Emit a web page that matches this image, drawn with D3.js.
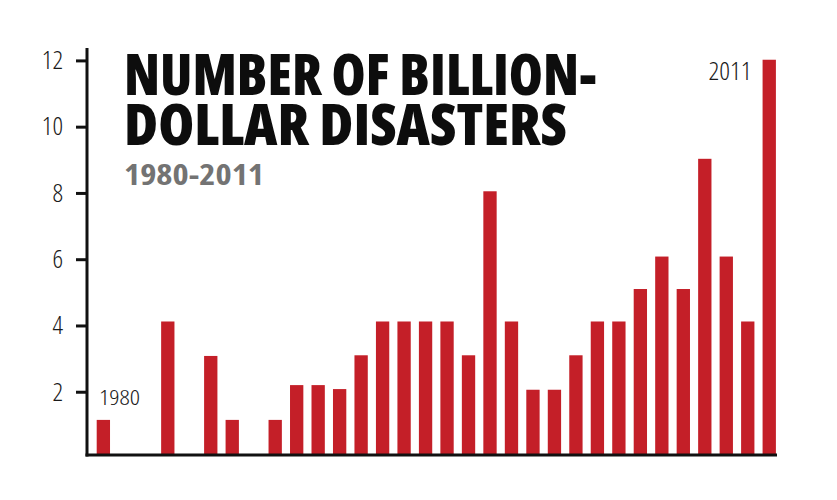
<!DOCTYPE html>
<html>
<head>
<meta charset="utf-8">
<script src="https://cdn.jsdelivr.net/npm/d3@7"></script>
<style>
  html, body { margin: 0; padding: 0; background: #fff; }
  svg { display: block; }
</style>
</head>
<body>
<svg id="chart" width="837" height="500"></svg>
<script>
const years = d3.range(1980, 2012).map(String);
const disasters = [1.15, 0, 0, 4.12, 0, 3.08, 1.15, 0, 1.15, 2.2, 2.2, 2.08, 3.1, 4.12, 4.12, 4.12,
                   4.12, 3.1, 8.05, 4.12, 2.06, 2.06, 3.1, 4.12, 4.12, 5.1, 6.08, 5.1, 9.03, 6.08, 4.12, 12.02];
const yTicks = [2, 4, 6, 8, 10, 12];
const titleLines = ["NUMBER OF BILLION-", "DOLLAR DISASTERS"];
const subtitle = "1980-2011";
const endLabels = [{ year: "1980", text: "1980" }, { year: "2011", text: "2011" }];

const svg = d3.select("#chart");
const barColor = "#c41f28";
const condensed = "'Open Sans', 'DejaVu Sans Condensed', sans-serif";

const x = d3.scaleBand().domain(years).range([96.7, 775.9]).paddingInner(0.38).paddingOuter(0);
const y = d3.scaleLinear().domain([0, 12]).range([458, 60.4]);

// bars
svg.append("g").selectAll("rect")
  .data(years.map((yr, i) => ({ yr, v: disasters[i] })).filter(d => d.v > 0))
  .join("rect")
  .attr("x", d => x(d.yr))
  .attr("width", x.bandwidth())
  .attr("y", d => y(d.v))
  .attr("height", d => 455 - y(d.v))
  .attr("fill", barColor);

// y axis
const yAxis = d3.axisLeft(y).tickValues(yTicks).tickSize(11).tickPadding(13);
const gy = svg.append("g").attr("transform", "translate(87,0)").call(yAxis);
gy.select(".domain").remove();
gy.selectAll(".tick line").attr("stroke", "#111").attr("stroke-width", 3);
gy.selectAll(".tick text")
  .attr("font-family", condensed)
  .attr("font-size", 26)
  .attr("font-weight", 300)
  .style("font-stretch", "75%")
  .attr("fill", "#1a1a1a");

// axis lines
svg.append("line").attr("x1", 87).attr("x2", 87).attr("y1", 48).attr("y2", 456.5)
  .attr("stroke", "#111").attr("stroke-width", 3);
svg.append("line").attr("x1", 85.5).attr("x2", 777).attr("y1", 455).attr("y2", 455)
  .attr("stroke", "#111").attr("stroke-width", 3);

// end labels
svg.append("text")
  .attr("x", 99).attr("y", 404.5)
  .attr("font-family", condensed).attr("font-size", 20).attr("font-weight", 300)
  .style("font-stretch", "75%").attr("fill", "#1a1a1a")
  .attr("textLength", 41).attr("lengthAdjust", "spacingAndGlyphs")
  .text(endLabels[0].text);
svg.append("text")
  .attr("x", 751.5).attr("y", 79.5).attr("text-anchor", "end")
  .attr("font-family", condensed).attr("font-size", 26).attr("font-weight", 300)
  .style("font-stretch", "75%").attr("fill", "#1a1a1a")
  .attr("textLength", 43).attr("lengthAdjust", "spacingAndGlyphs")
  .text(endLabels[1].text);

// title (one text element, two lines)
const titleLens = [473, 443];
const title = svg.append("text")
  .attr("font-family", condensed)
  .attr("font-weight", 800)
  .style("font-stretch", "75%")
  .attr("font-size", 56)
  .attr("fill", "#0d0d0d");
title.selectAll("tspan")
  .data(titleLines)
  .join("tspan")
  .attr("x", 124)
  .attr("y", (d, i) => 95 + i * 50)
  .attr("textLength", (d, i) => titleLens[i])
  .attr("lengthAdjust", "spacingAndGlyphs")
  .text(d => d);

svg.append("text")
  .attr("x", 124).attr("y", 185)
  .attr("font-family", condensed)
  .attr("font-weight", 700)
  .style("font-stretch", "75%")
  .attr("font-size", 28)
  .attr("fill", "#737373")
  .attr("textLength", 140)
  .attr("lengthAdjust", "spacingAndGlyphs")
  .text(subtitle);
</script>
</body>
</html>
